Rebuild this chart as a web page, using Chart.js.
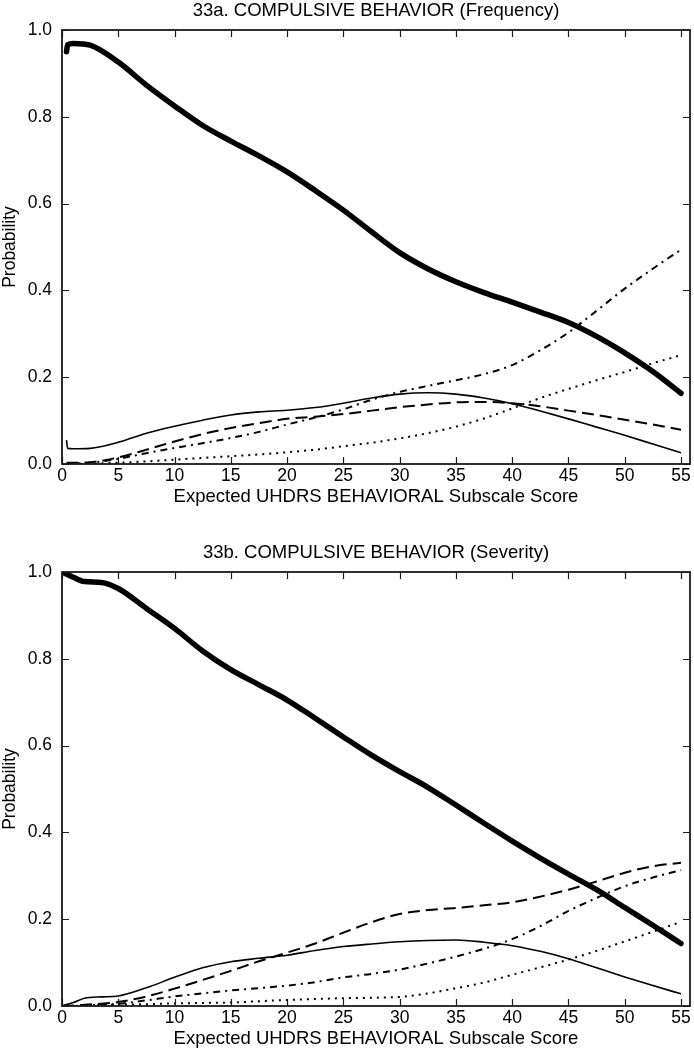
<!DOCTYPE html>
<html>
<head>
<meta charset="utf-8">
<script src="https://cdn.jsdelivr.net/npm/chart.js@4.4.1/dist/chart.umd.min.js"></script>
<style>
  html, body { margin: 0; padding: 0; background: #fff; overflow: hidden; }
  #wrap { position: relative; width: 694px; height: 1050px; }
  canvas { position: absolute; left: 0; }
  #c1 { top: 0; }
  #c2 { top: 542px; }
</style>
</head>
<body>
<div id="wrap">
  <canvas id="c1" width="694" height="508"></canvas>
  <canvas id="c2" width="694" height="508"></canvas>
</div>
<script>
// ---------- DATA ----------
const xTicks = [0, 5, 10, 15, 20, 25, 30, 35, 40, 45, 50, 55];
const yTicks = [0, 0.2, 0.4, 0.6, 0.8, 1.0];

// 33a. Frequency
const freqX = [0.4, 0.5, 1, 2.5, 5, 7.5, 10, 12.5, 15, 17.5, 20, 22.5, 25, 27.5, 30, 32.5, 35, 37.5, 40, 42.5, 45, 47.5, 50, 52.5, 55];
const freqThick   = [0.950, 0.966, 0.969, 0.965, 0.926, 0.873, 0.825, 0.780, 0.744, 0.710, 0.673, 0.630, 0.585, 0.535, 0.487, 0.450, 0.420, 0.395, 0.373, 0.350, 0.326, 0.294, 0.256, 0.213, 0.163];
const freqSolid   = [0.055, 0.036, 0.035, 0.036, 0.050, 0.071, 0.087, 0.101, 0.113, 0.120, 0.124, 0.130, 0.140, 0.152, 0.161, 0.164, 0.161, 0.152, 0.139, 0.122, 0.104, 0.085, 0.066, 0.046, 0.026];
const freqDashed  = [0.003, 0.003, 0.003, 0.004, 0.015, 0.033, 0.052, 0.069, 0.083, 0.094, 0.104, 0.109, 0.115, 0.123, 0.131, 0.137, 0.142, 0.143, 0.140, 0.133, 0.123, 0.113, 0.102, 0.091, 0.079];
const freqDashDot = [0.000, 0.000, 0.001, 0.003, 0.012, 0.025, 0.037, 0.048, 0.060, 0.074, 0.091, 0.107, 0.126, 0.148, 0.166, 0.180, 0.193, 0.207, 0.228, 0.262, 0.303, 0.353, 0.404, 0.450, 0.494];
const freqDotted  = [0.000, 0.000, 0.000, 0.001, 0.003, 0.006, 0.010, 0.014, 0.018, 0.022, 0.027, 0.033, 0.041, 0.049, 0.059, 0.071, 0.086, 0.105, 0.128, 0.152, 0.173, 0.193, 0.212, 0.232, 0.251];

// 33b. Severity
const sevX = [0, 1, 2, 3.5, 5, 7.5, 10, 12.5, 15, 17.5, 20, 22.5, 25, 27.5, 30, 32.5, 35, 37.5, 40, 42.5, 45, 47.5, 50, 52.5, 55];
const sevThick   = [1.000, 0.988, 0.978, 0.976, 0.962, 0.916, 0.870, 0.818, 0.775, 0.740, 0.705, 0.663, 0.620, 0.578, 0.540, 0.504, 0.463, 0.421, 0.380, 0.341, 0.304, 0.268, 0.227, 0.186, 0.144];
const sevSolid   = [0.000, 0.008, 0.018, 0.021, 0.023, 0.042, 0.066, 0.088, 0.102, 0.110, 0.117, 0.128, 0.137, 0.143, 0.148, 0.151, 0.152, 0.147, 0.139, 0.126, 0.109, 0.088, 0.067, 0.047, 0.028];
const sevDashed  = [0.000, 0.001, 0.003, 0.005, 0.009, 0.022, 0.040, 0.060, 0.081, 0.103, 0.123, 0.144, 0.169, 0.193, 0.212, 0.221, 0.226, 0.232, 0.239, 0.252, 0.268, 0.287, 0.307, 0.322, 0.330];
const sevDashDot = [0.000, 0.000, 0.001, 0.003, 0.005, 0.013, 0.022, 0.029, 0.036, 0.041, 0.047, 0.055, 0.066, 0.074, 0.084, 0.098, 0.114, 0.132, 0.154, 0.184, 0.219, 0.249, 0.276, 0.296, 0.313];
const sevDotted  = [0.000, 0.000, 0.001, 0.002, 0.003, 0.004, 0.006, 0.007, 0.008, 0.011, 0.014, 0.016, 0.018, 0.019, 0.021, 0.029, 0.041, 0.054, 0.072, 0.089, 0.107, 0.127, 0.149, 0.171, 0.194];

const xTitle = 'Expected UHDRS BEHAVIORAL Subscale Score';
const yTitle = 'Probability';

// ---------- CHART ----------
const FONT = "'Liberation Sans', Arial, Helvetica, sans-serif";
Chart.defaults.font.family = FONT;
Chart.defaults.font.size = 17.5;
Chart.defaults.color = '#000';

const frameTicks = {
  id: 'frameTicks',
  afterDraw(chart, args, opts) {
    const ctx = chart.ctx, a = chart.chartArea;
    const xs = chart.scales.x, ys = chart.scales.y;
    const L = 7;
    ctx.save();
    ctx.strokeStyle = '#1a1a1a';
    ctx.lineWidth = 1.2;
    ctx.beginPath();
    xTicks.forEach(v => {
      const px = Math.round(xs.getPixelForValue(v)) + 0.5;
      ctx.moveTo(px, a.bottom); ctx.lineTo(px, a.bottom - L);
      ctx.moveTo(px, a.top); ctx.lineTo(px, a.top + L);
    });
    yTicks.forEach(v => {
      const py = Math.round(ys.getPixelForValue(v)) + 0.5;
      ctx.moveTo(a.left, py); ctx.lineTo(a.left + L, py);
      ctx.moveTo(a.right, py); ctx.lineTo(a.right - L, py);
    });
    ctx.stroke();
    ctx.lineWidth = 1.8;
    ctx.strokeRect(a.left, a.top, a.right - a.left, a.bottom - a.top);
    // chart title centred over the plot area
    ctx.fillStyle = '#000';
    ctx.font = '18.5px ' + FONT;
    ctx.textAlign = 'center';
    ctx.textBaseline = 'middle';
    ctx.fillText(opts.text, (a.left + a.right) / 2, 11);
    ctx.restore();
  }
};

function pts(xs, ys) { return xs.map((x, i) => ({ x: x, y: ys[i] })); }

function makeChart(id, title, xs, thick, solid, dashed, dashdot, dotted) {
  const base = { pointRadius: 0, borderColor: '#000', fill: false, cubicInterpolationMode: 'monotone', borderJoinStyle: 'round' };
  new Chart(document.getElementById(id), {
    type: 'line',
    data: {
      datasets: [
        Object.assign({ data: pts(xs, dotted), borderWidth: 2, borderDash: [2, 5] }, base),
        Object.assign({ data: pts(xs, dashdot), borderWidth: 2, borderDash: [7, 5, 2, 5] }, base),
        Object.assign({ data: pts(xs, dashed), borderWidth: 2, borderDash: [12, 6] }, base),
        Object.assign({ data: pts(xs, solid), borderWidth: 1.6 }, base),
        Object.assign({ data: pts(xs, thick), borderWidth: 5.5, borderCapStyle: 'round' }, base)
      ]
    },
    options: {
      responsive: false,
      animation: false,
      layout: { padding: { left: 0, right: 4, top: 30, bottom: 0 } },
      plugins: {
        legend: { display: false },
        tooltip: { enabled: false },
        title: { display: false },
        frameTicks: { text: title }
      },
      scales: {
        x: {
          type: 'linear', min: 0, max: 55.8,
          grid: { display: false, drawTicks: false },
          border: { display: false },
          afterBuildTicks: s => { s.ticks = xTicks.map(v => ({ value: v })); },
          afterFit: s => { s.height = 44; },
          ticks: { padding: 2, maxRotation: 0, autoSkip: false, callback: v => String(v) },
          title: { display: true, text: xTitle, color: '#000', font: { size: 18.5 }, padding: { top: 0, bottom: 0 } }
        },
        y: {
          type: 'linear', min: 0, max: 1,
          grid: { display: false, drawTicks: false },
          border: { display: false },
          afterBuildTicks: s => { s.ticks = yTicks.map(v => ({ value: v })); },
          afterFit: s => { s.width = 62; },
          ticks: { padding: 10, callback: v => Number(v).toFixed(1) },
          title: { display: true, text: yTitle, color: '#000', font: { size: 17.5 }, padding: { top: 0, bottom: 0 } }
        }
      }
    },
    plugins: [frameTicks]
  });
}

makeChart('c1', '33a. COMPULSIVE BEHAVIOR (Frequency)', freqX, freqThick, freqSolid, freqDashed, freqDashDot, freqDotted);
makeChart('c2', '33b. COMPULSIVE BEHAVIOR (Severity)', sevX, sevThick, sevSolid, sevDashed, sevDashDot, sevDotted);
</script>
</body>
</html>
